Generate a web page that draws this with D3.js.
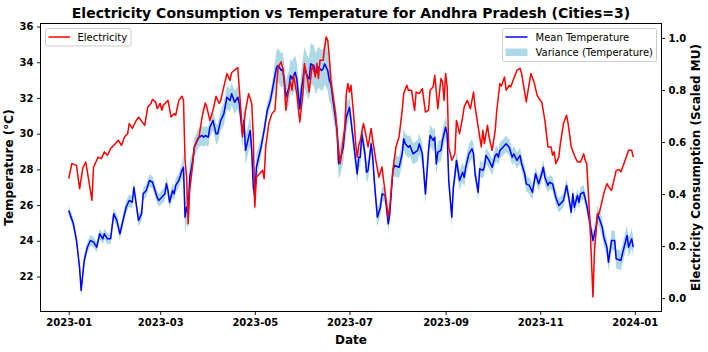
<!DOCTYPE html>
<html><head><meta charset="utf-8">
<script src="https://cdn.jsdelivr.net/npm/d3@7"></script>
<style>
body{margin:0;background:#fff}
svg{display:block}
text{font-family:"DejaVu Sans",sans-serif}
</style>
</head><body>
<svg id="chart" width="708" height="352"></svg>
<script>
// ---- data (day offsets from 2023-01-01) ----
const elecDays = [0,2,5,7,9,11,15,16,19,21,23,25,27,29,32,34,36,38,39,41,43,45,49,51,53,54,56,57,59,60,61,64,66,68,69,71,73,74,75,76,77,78,80,81,83,84,86,88,89,91,93,94,95,97,98,100,102,104,105,107,109,111,112,114,116,118,119,120,121,124,125,126,127,129,131,133,134,135,137,138,139,140,141,143,144,145,147,149,151,152,154,155,157,158,159,160,161,162,164,165,166,167,168,169,172,173,174,175,177,178,179,180,181,182,184,185,186,187,188,190,191,193,195,196,198,200,202,203,206,207,209,211,213,215,216,218,219,221,223,224,226,228,230,232,233,235,236,238,240,241,242,243,244,245,247,249,250,252,254,255,257,259,261,262,264,266,267,268,270,271,273,275,276,278,279,281,282,284,285,287,289,291,292,295,296,298,300,302,304,305,307,309,311,312,313,314,316,317,319,321,322,324,326,328,330,332,333,334,336,338,339,341,342,345,347,349,350,353,355,356,358,361,363,364];
const elecValues = [0.459,0.517,0.510,0.420,0.498,0.523,0.376,0.504,0.542,0.536,0.562,0.549,0.575,0.587,0.607,0.587,0.620,0.632,0.671,0.652,0.677,0.696,0.664,0.735,0.748,0.764,0.754,0.728,0.748,0.722,0.741,0.760,0.696,0.709,0.703,0.760,0.776,0.760,0.530,0.465,0.286,0.414,0.517,0.581,0.613,0.620,0.696,0.750,0.735,0.683,0.722,0.748,0.776,0.748,0.760,0.812,0.863,0.837,0.866,0.877,0.886,0.722,0.620,0.722,0.786,0.748,0.620,0.350,0.465,0.485,0.491,0.459,0.581,0.671,0.709,0.722,0.812,0.888,0.908,0.882,0.825,0.722,0.773,0.831,0.799,0.857,0.786,0.677,0.786,0.902,0.837,0.792,0.895,0.876,0.850,0.902,0.844,0.914,0.914,0.965,1.004,0.991,0.927,0.837,0.709,0.645,0.568,0.517,0.607,0.658,0.786,0.825,0.792,0.818,0.683,0.594,0.542,0.587,0.607,0.671,0.645,0.581,0.652,0.607,0.530,0.465,0.504,0.453,0.312,0.350,0.491,0.581,0.620,0.722,0.786,0.818,0.799,0.799,0.722,0.792,0.786,0.805,0.715,0.722,0.799,0.812,0.857,0.728,0.844,0.831,0.760,0.863,0.812,0.581,0.530,0.555,0.683,0.632,0.696,0.735,0.760,0.728,0.792,0.735,0.658,0.581,0.645,0.594,0.664,0.620,0.568,0.645,0.722,0.825,0.815,0.850,0.799,0.818,0.812,0.844,0.876,0.883,0.863,0.754,0.792,0.863,0.831,0.780,0.760,0.754,0.683,0.581,0.581,0.549,0.562,0.517,0.542,0.594,0.671,0.703,0.671,0.581,0.549,0.523,0.523,0.555,0.530,0.517,0.299,0.004,0.183,0.325,0.325,0.402,0.440,0.421,0.414,0.491,0.494,0.485,0.517,0.568,0.568,0.542];

const tempDays = [0,3,5,7,8,10,12,14,16,18,20,22,23,25,27,29,31,33,35,37,39,41,42,45,47,48,50,52,54,55,57,58,60,62,63,64,65,67,68,69,71,73,74,75,76,77,78,80,81,83,84,86,87,88,90,91,93,95,96,98,100,102,104,105,107,109,110,112,113,114,117,118,119,120,121,124,126,128,130,131,134,135,137,138,139,140,142,143,144,146,147,149,150,152,154,155,156,158,159,161,163,164,165,167,168,169,171,173,174,175,177,178,179,181,182,184,186,187,188,189,191,192,193,195,196,197,199,201,202,204,206,207,209,210,213,215,216,217,219,220,222,225,226,228,230,232,233,235,236,237,238,240,241,243,244,245,247,248,249,250,252,254,255,256,258,260,261,262,264,265,267,268,269,271,273,275,276,277,278,280,282,284,286,287,289,291,292,294,295,297,299,301,303,305,306,307,309,310,312,314,316,319,321,322,324,325,326,328,329,330,332,334,335,338,340,341,344,345,347,348,350,352,353,356,357,360,361,363,364];
const tempMean = [25.70,24.95,24.02,22.50,21.22,22.90,23.64,24.02,23.92,23.64,24.39,24.11,24.39,24.11,24.11,25.51,25.14,24.39,25.14,25.88,26.26,26.16,27.00,25.14,25.51,26.63,26.82,27.38,27.28,27.00,26.44,26.26,26.44,26.63,27.19,26.82,26.16,26.82,26.63,27.10,27.38,27.94,28.12,25.32,25.88,25.51,27.56,28.50,29.24,29.62,29.80,29.90,29.80,29.90,29.80,30.36,30.74,29.99,29.99,30.74,31.11,32.04,31.86,32.23,31.76,32.04,31.67,29.99,30.74,29.06,30.18,29.06,27.00,26.44,28.12,29.24,30.18,31.30,31.86,32.32,33.72,33.82,33.54,33.63,32.98,32.04,32.60,33.26,33.07,33.44,33.07,31.39,32.42,33.72,33.16,33.07,33.91,33.82,33.35,33.72,33.54,33.63,33.91,33.54,32.98,32.79,31.48,30.18,28.31,28.50,29.24,30.18,30.92,31.48,30.74,29.24,27.75,28.68,28.68,29.99,28.87,27.84,27.94,29.43,28.68,27.38,25.32,25.88,26.63,26.54,24.95,25.51,27.94,28.22,28.12,28.87,29.71,29.43,29.24,29.34,28.87,29.06,29.43,28.87,26.63,29.06,29.90,29.62,29.80,28.31,28.96,29.06,29.62,30.36,29.99,27.38,25.32,27.00,27.66,28.50,27.38,27.84,27.56,28.12,28.87,29.15,28.87,27.75,26.72,28.03,27.94,28.12,28.78,28.50,28.12,28.78,28.87,28.68,29.06,29.24,29.43,29.24,28.68,28.87,28.50,28.78,28.31,27.75,27.19,27.10,26.72,27.75,27.19,27.75,28.12,27.56,27.10,27.28,27.19,26.44,25.98,26.26,27.10,26.63,25.60,26.63,25.88,26.54,26.16,26.63,26.72,25.98,25.51,24.02,24.76,25.51,24.76,24.20,23.64,22.80,24.02,24.02,22.99,22.90,23.27,24.30,23.64,24.11,23.64];
// half-width of the variance band, by period (start day of each period)
const varianceStart = [0,30,60,74,80,100,112,122,133,150,170,180,200,210,245,262,300,335,350];
const varianceHalf  = [0.30,0.35,0.40,0.90,0.55,0.65,0.80,0.45,0.95,1.15,0.85,0.55,0.40,0.60,0.55,0.45,0.40,0.50,0.55];

const tempTicks = [22,24,26,28,30,32,34,36];
const elecTicks = [0.0,0.2,0.4,0.6,0.8,1.0];
const monthTickLabels = ["2023-01","2023-03","2023-05","2023-07","2023-09","2023-11","2024-01"];

const titleText = "Electricity Consumption vs Temperature for Andhra Pradesh (Cities=3)";

// ---- layout ----
const L=40.5, R=661.5, T=23.5, B=311.5;
const base = Date.UTC(2023,0,1);
const toDate = d => new Date(base + d*864e5);
const svg = d3.select("#chart");

const x = d3.scaleUtc().domain([toDate(-18.2), toDate(382.2)]).range([L,R]);
const yT = d3.scaleLinear().domain([20.04,36.17]).range([B,T]);
const yE = d3.scaleLinear().domain([-0.0515,1.0555]).range([B,T]);

const halfAt = d => { let h=varianceHalf[0]; varianceStart.forEach((s,i)=>{ if(d>=s) h=varianceHalf[i]; }); return h; };
const temp = tempDays.map((d,i)=>({d, m:tempMean[i], h:halfAt(d)}));
const elec = elecDays.map((d,i)=>({d, v:elecValues[i]}));

const g = svg.append("g");
g.append("path").datum(temp)
  .attr("fill","#add8e6").attr("stroke","none")
  .attr("d", d3.area().x(p=>x(toDate(p.d))).y0(p=>yT(p.m-p.h)).y1(p=>yT(p.m+p.h)));
g.append("path").datum(temp)
  .attr("fill","none").attr("stroke","#0000ff").attr("stroke-width",1.5).attr("stroke-linejoin","round")
  .attr("d", d3.line().x(p=>x(toDate(p.d))).y(p=>yT(p.m)));
g.append("path").datum(elec)
  .attr("fill","none").attr("stroke","#ff0000").attr("stroke-width",1.5).attr("stroke-linejoin","round")
  .attr("d", d3.line().x(p=>x(toDate(p.d))).y(p=>yE(p.v)));

// frame
svg.append("rect").attr("x",L).attr("y",T).attr("width",R-L).attr("height",B-T)
  .attr("fill","none").attr("stroke","#000").attr("stroke-width",1);

function styleAxis(sel){
  sel.select(".domain").remove();
  sel.selectAll(".tick line").attr("stroke","#000").attr("stroke-width",0.9);
  sel.selectAll(".tick text").attr("fill","#000").style("font-size","10px").style("font-weight","bold")
    .style("font-family","'DejaVu Sans',sans-serif");
}
const monthDates = monthTickLabels.map(s=>{const [yy,mm]=s.split("-").map(Number); return new Date(Date.UTC(yy,mm-1,1));});
svg.append("g").attr("transform",`translate(0,${B})`)
  .call(d3.axisBottom(x).tickValues(monthDates).tickFormat((d,i)=>monthTickLabels[i]).tickSize(3.5).tickPadding(3.5))
  .call(styleAxis);
svg.append("g").attr("transform",`translate(${L},0)`)
  .call(d3.axisLeft(yT).tickValues(tempTicks).tickFormat(d3.format("d")).tickSize(3.5).tickPadding(3.5))
  .call(styleAxis);
svg.append("g").attr("transform",`translate(${R},0)`)
  .call(d3.axisRight(yE).tickValues(elecTicks).tickFormat(d3.format(".1f")).tickSize(3.5).tickPadding(3.5))
  .call(styleAxis);

// labels
svg.append("text").attr("x",(L+R)/2).attr("y",18).attr("text-anchor","middle")
  .style("font-size","14px").style("font-weight","bold").text(titleText);
svg.append("text").attr("x",(L+R)/2).attr("y",343.5).attr("text-anchor","middle")
  .style("font-size","12px").style("font-weight","bold").text("Date");
svg.append("text").attr("transform",`translate(12.5,${(T+B)/2}) rotate(-90)`).attr("text-anchor","middle")
  .style("font-size","12px").style("font-weight","bold").text("Temperature (°C)");
svg.append("text").attr("transform",`translate(699.5,${(T+B)/2}) rotate(-90)`).attr("text-anchor","middle")
  .style("font-size","12px").style("font-weight","bold").text("Electricity Consumption (Scaled MU)");

// legends
function legendBox(x0,y0,w,h){
  svg.append("rect").attr("x",x0).attr("y",y0).attr("width",w).attr("height",h).attr("rx",2)
    .attr("fill","#fff").attr("fill-opacity",0.8).attr("stroke","#cccccc").attr("stroke-width",1);
}
legendBox(45.5,28.5,85.5,17.5);
svg.append("line").attr("x1",48.5).attr("x2",70).attr("y1",37).attr("y2",37).attr("stroke","#ff0000").attr("stroke-width",1.5);
svg.append("text").attr("x",77.5).attr("y",40.6).style("font-size","10px").attr("fill","#000").text("Electricity");

legendBox(502.5,28.5,154,33);
svg.append("line").attr("x1",505.5).attr("x2",527.5).attr("y1",37).attr("y2",37).attr("stroke","#0000ff").attr("stroke-width",1.5);
svg.append("text").attr("x",535.5).attr("y",40.6).style("font-size","10px").attr("fill","#000").text("Mean Temperature");
svg.append("rect").attr("x",505.5).attr("y",48.5).attr("width",22).attr("height",7.5).attr("fill","#add8e6");
svg.append("text").attr("x",535.5).attr("y",55.8).style("font-size","10px").attr("fill","#000").text("Variance (Temperature)");
</script>
</body></html>
